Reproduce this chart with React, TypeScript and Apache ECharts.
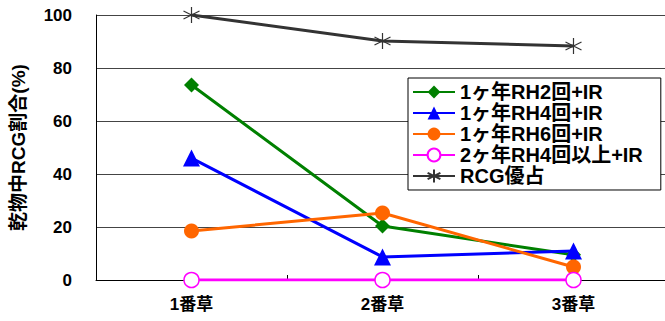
import React, { useEffect, useRef } from "react";
import * as echarts from "echarts";

const categories = ["1番草", "2番草", "3番草"];
const seriesNames = ["1ヶ年RH2回+IR", "1ヶ年RH4回+IR", "1ヶ年RH6回+IR", "2ヶ年RH4回以上+IR", "RCG優占"];
const rh2 = [73.6, 20.4, 9.5];
const rh4 = [46.0, 8.7, 10.9];
const rh6 = [18.5, 25.3, 4.9];
const rh4y2 = [0, 0, 0];
const rcg = [100, 90.2, 88.3];
const yTicks = [0, 20, 40, 60, 80, 100];

const FONT = "'Liberation Sans', 'Noto Sans CJK JP', sans-serif";
const STAR = "path://M0,-10L0,10M-8.66,-5L8.66,5M-8.66,5L8.66,-5";

export default function App() {
  const ref = useRef<HTMLDivElement>(null);
  useEffect(() => {
    if (!ref.current) return;
    const chart = echarts.init(ref.current, null, { renderer: "svg" });
    const mk = (name: string, data: number[], color: string, symbol: string, size: number, extra: any = {}) => ({
      name,
      type: "line",
      data,
      symbol,
      symbolSize: size,
      lineStyle: { color, width: 3 },
      itemStyle: { color, borderColor: color, borderWidth: 0 },
      ...extra,
    });
    chart.setOption({
      animation: false,
      backgroundColor: "#fff",
      grid: { left: 96, top: 15, width: 573, height: 265, containLabel: false, outerBoundsMode: "none" },
      legend: {
        orient: "vertical",
        left: 408,
        top: 78,
        backgroundColor: "#fff",
        borderColor: "#000",
        borderWidth: 1,
        borderRadius: 0,
        padding: [4, 18, 4, 4],
        itemGap: 1,
        itemWidth: 42,
        itemHeight: 16,
        data: seriesNames,
        textStyle: { fontFamily: FONT, fontSize: 20, fontWeight: "bold", color: "#000" },
      },
      xAxis: {
        type: "category",
        data: categories,
        boundaryGap: true,
        axisLine: { lineStyle: { color: "#000", width: 1 } },
        axisTick: { show: true, inside: true, length: 5, lineStyle: { color: "#000" } },
        axisLabel: { fontFamily: FONT, fontSize: 17, fontWeight: "bold", color: "#000", margin: 16 },
      },
      yAxis: {
        type: "value",
        min: yTicks[0],
        max: yTicks[yTicks.length - 1],
        interval: 20,
        name: "乾物中RCG割合(%)",
        nameLocation: "middle",
        nameRotate: 90,
        nameGap: 68,
        nameTextStyle: { fontFamily: FONT, fontSize: 19, fontWeight: "bold", color: "#000" },
        axisLine: { show: true, lineStyle: { color: "#000", width: 1 } },
        axisTick: { show: false },
        splitLine: { show: true, lineStyle: { color: "#444", width: 1 } },
        axisLabel: { fontFamily: FONT, fontSize: 17, fontWeight: "bold", color: "#000", margin: 24 },
      },
      series: [
        mk(seriesNames[0], rh2, "#008000", "diamond", 15),
        mk(seriesNames[1], rh4, "#0000ff", "triangle", 17),
        mk(seriesNames[2], rh6, "#ff6600", "circle", 15),
        mk(seriesNames[3], rh4y2, "#ff00ff", "circle", 15, {
          itemStyle: { color: "#fff", borderColor: "#ff00ff", borderWidth: 1.5 },
        }),
        mk(seriesNames[4], rcg, "#333333", STAR, 16, {
          itemStyle: { color: "#333", borderColor: "#333", borderWidth: 1.2 },
        }),
      ],
    });
    return () => chart.dispose();
  }, []);
  return <div ref={ref} style={{ position: "fixed", left: 0, top: 0, width: 665, height: 321 }} />;
}
